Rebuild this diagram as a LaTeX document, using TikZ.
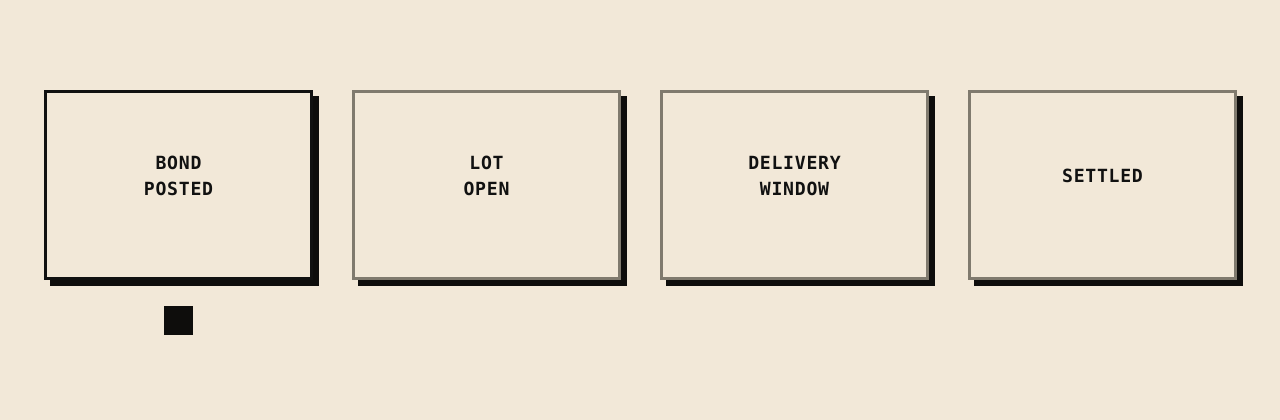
\documentclass[tikz,border=0pt]{standalone}
\usepackage{fontspec}
\usetikzlibrary{backgrounds}
\newfontfamily\labelmono{DejaVu Sans Mono}[LetterSpace=4]
\definecolor{bgc}{RGB}{242,232,216}
\definecolor{inkc}{RGB}{17,17,17}
\definecolor{greyc}{RGB}{128,122,110}
\definecolor{shadc}{RGB}{14,13,12}
\tikzset{
  stagebox/.style={draw=greyc, fill=bgc, line width=1.9pt, inner sep=0pt,
    minimum width=199.3pt, minimum height=140.5pt},
  activebox/.style={stagebox, draw=inkc},
  stagetext/.style={text=inkc, align=center, inner sep=0pt,
    font=\labelmono\bfseries\fontsize{13.6pt}{19.3pt}\selectfont},
  marker/.style={fill=shadc, draw=none, inner sep=0pt, minimum size=21.75pt},
  boxshadow/.style={fill=shadc}
}
\begin{document}
\begin{tikzpicture}[x=0.75pt,y=-0.75pt]
\useasboundingbox (0,0) rectangle (1280,420);
\node[activebox] (b1) at (178.5,185) {};
\node[stagebox] (b2) at (486.5,185) {};
\node[stagebox] (b3) at (794.5,185) {};
\node[stagebox] (b4) at (1102.5,185) {};
\node[stagetext] (t1) at (178.5,176) {BOND\\POSTED};
\node[stagetext] (t2) at (486.5,176) {LOT\\OPEN};
\node[stagetext] (t3) at (794.5,176) {DELIVERY\\WINDOW};
\node[stagetext] (t4) at (1102.5,176) {SETTLED};
\node[marker] (m1) at (178.5,320.5) {};
\begin{scope}[on background layer]
  \fill[bgc] (0,0) rectangle (1280,420);
  \foreach \b in {b1,b2,b3,b4}{
    \fill[boxshadow] ([shift={(6,6.3)}]\b.north west) rectangle ([shift={(6,6.3)}]\b.south east);
  }
\end{scope}
\end{tikzpicture}
\end{document}
